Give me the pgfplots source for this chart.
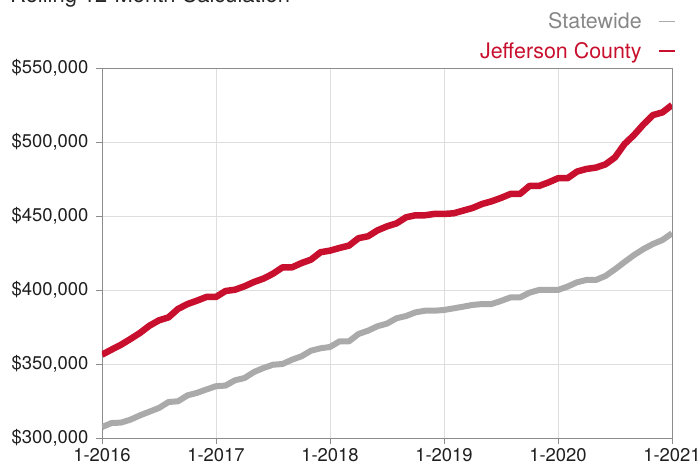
\documentclass[border=0pt]{standalone}
\usepackage{fontspec}
\setmainfont{TeX Gyre Heros}
\usepackage{pgfplots}
\usepackage{pgfplotstable}
\pgfplotsset{compat=1.18}
\definecolor{jred}{RGB}{200,16,46}
\definecolor{sgray}{RGB}{170,170,170}
\definecolor{sgraytxt}{RGB}{135,135,135}
\definecolor{axgray}{RGB}{140,140,140}
\definecolor{gridgray}{RGB}{222,222,222}

% values in thousands of dollars, month index from 1-2016
\pgfplotstableread{
m v
0 307.4
1 310.1
2 310.4
3 312.4
4 315.3
5 317.8
6 320.3
7 324.3
8 324.8
9 328.8
10 330.5
11 332.8
12 335.0
13 335.4
14 339.0
15 340.5
16 344.6
17 347.3
18 349.5
19 350.0
20 352.9
21 355.2
22 359.0
23 360.6
24 361.5
25 365.3
26 365.3
27 370.3
28 372.5
29 375.5
30 377.3
31 380.9
32 382.4
33 384.9
34 386.0
35 386.0
36 386.5
37 387.6
38 388.7
39 389.9
40 390.5
41 390.5
42 392.6
43 395.0
44 395.0
45 398.2
46 400.0
47 400.0
48 400.0
49 402.3
50 405.2
51 406.8
52 406.8
53 409.5
54 414.0
55 418.9
56 423.6
57 427.7
58 431.1
59 433.8
60 438.3
}\statewide

\pgfplotstableread{
m v
0 356.3
1 359.7
2 363.0
3 366.9
4 371.0
5 375.9
6 379.5
7 381.5
8 387.2
9 390.5
10 392.8
11 395.3
12 395.3
13 399.3
14 400.2
15 402.5
16 405.4
17 407.7
18 411.0
19 415.3
20 415.3
21 418.2
22 420.5
23 425.5
24 426.6
25 428.4
26 430.0
27 435.0
28 436.3
29 440.3
30 443.0
31 445.0
32 449.1
33 450.5
34 450.5
35 451.4
36 451.4
37 451.8
38 453.6
39 455.4
40 458.1
41 459.9
42 462.2
43 464.9
44 464.9
45 470.3
46 470.3
47 472.7
48 475.5
49 475.5
50 480.0
51 481.8
52 482.7
53 484.9
54 489.6
55 498.6
56 504.7
57 511.9
58 518.2
59 520.0
60 525.0
}\jefferson

\begin{document}
\begin{tikzpicture}[x=1bp,y=1bp]
\useasboundingbox (-102,-32) rectangle (598,438);
\node[anchor=base west, inner sep=0pt, font=\fontsize{22}{26}\selectfont, text=black!85] at (-92,435) {Rolling 12-Month Calculation};
\begin{axis}[
  at={(0,0)}, anchor=south west,
  scale only axis, width=570bp, height=370bp,
  xmin=0, xmax=60, ymin=300, ymax=550,
  xtick={0,12,24,36,48,60},
  xticklabels={1-2016,1-2017,1-2018,1-2019,1-2020,1-2021},
  ytick={300,350,400,450,500,550},
  yticklabels={{\$300,000},{\$350,000},{\$400,000},{\$450,000},{\$500,000},{\$550,000}},
  /pgf/number format/assume math mode=true,
  xtick pos=lower, ytick pos=left,
  tick align=outside, major tick length=6bp,
  tick style={axgray, line width=0.9bp},
  axis line style={axgray, line width=0.9bp},
  grid=major, major grid style={gridgray, line width=0.9bp},
  tick label style={font=\fontsize{18.5}{22}\selectfont, text=black!88},
  yticklabel style={xshift=-4bp},
  xticklabel style={yshift=-1bp},
  legend plot pos=right,
  legend cell align=right,
  legend style={draw=none, fill=none, at={(1,1)}, anchor=south east,
    xshift=4bp, yshift=6bp, inner sep=0pt,
    font=\fontsize{21.5}{24}\selectfont, row sep=8bp},
  legend image code/.code={\path (0bp,0bp); \draw[#1, line width=1.8bp] (12bp,0bp) -- (28bp,0bp);},
  line join=round,
]
\addplot[sgray, line width=6bp, no markers] table[x=m, y=v] {\statewide};
\addlegendentry{\textcolor{sgraytxt}{Statewide}}
\addplot[jred, line width=6.5bp, no markers] table[x=m, y=v] {\jefferson};
\addlegendentry{\textcolor{jred}{Jefferson County}}
\end{axis}
\end{tikzpicture}
\end{document}
